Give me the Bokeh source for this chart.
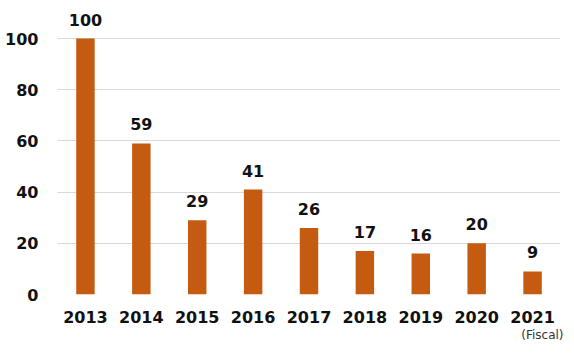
from bokeh.plotting import figure
from bokeh.models import FactorRange, Range1d, FixedTicker, Title, ColumnDataSource
from bokeh.embed import file_html
from bokeh.resources import INLINE
from bokeh.core.properties import value

years = ["2013", "2014", "2015", "2016", "2017", "2018", "2019", "2020", "2021"]
values = [100, 59, 29, 41, 26, 17, 16, 20, 9]
y_ticks = [0, 20, 40, 60, 80, 100]
unit_label = "(Fiscal)"

BAR = "#C55A11"
FONT = "DejaVu Sans"

src = ColumnDataSource(dict(x=years, top=values, label=[str(v) for v in values]))

p = figure(width=574, height=355, x_range=FactorRange(*years, range_padding=0),
           y_range=Range1d(0, 112.9), output_backend="svg", toolbar_location=None,
           min_border_left=57, min_border_right=14, min_border_top=5, min_border_bottom=61)
p.outline_line_color = None
p.background_fill_color = "white"
p.border_fill_color = "white"

p.vbar(x="x", top="top", width=0.33, source=src, fill_color=BAR, line_color=None)
p.text(x="x", y="top", text="label", source=src, text_align="center",
       text_baseline="alphabetic", y_offset=-19, text_font=value(FONT),
       text_font_style="bold", text_font_size="16px", text_color="#111111")

p.yaxis.ticker = FixedTicker(ticks=y_ticks)
p.xgrid.grid_line_color = None
p.ygrid.grid_line_color = "#d9d9d9"
p.ygrid.grid_line_width = 1

for ax in (p.xaxis, p.yaxis):
    ax.axis_line_color = None
    ax.major_tick_line_color = None
    ax.minor_tick_line_color = None
    ax.major_tick_out = 0
    ax.major_tick_in = 0
    ax.minor_tick_out = 0
    ax.minor_tick_in = 0
    ax.major_label_text_font = FONT
    ax.major_label_text_font_style = "bold"
    ax.major_label_text_font_size = "16px"
    ax.major_label_text_color = "#111111"
p.yaxis.major_label_standoff = 19
p.xaxis.major_label_standoff = 16

p.add_layout(Title(text=unit_label, align="right", text_font=FONT, text_font_size="12px",
                   text_font_style="normal", text_color="#333333", standoff=0, offset=-3),
             "below")

open("out.html", "w").write(file_html(p, INLINE))
